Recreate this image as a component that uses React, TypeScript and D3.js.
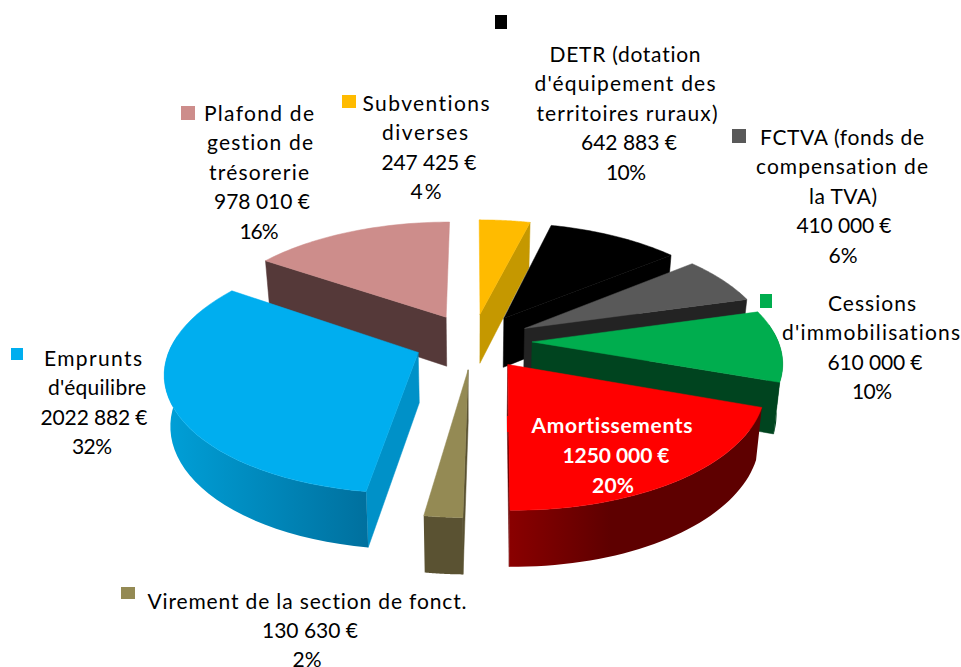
import * as d3 from 'd3';

const NAMES = ['Subventions diverses', 'DETR', 'FCTVA', 'Cessions', 'Amortissements', 'Virement', 'Emprunts', 'Plafond'];
const VALUES = [247425, 642883, 410000, 610000, 1250000, 130630, 2022882, 978010];
const TOP_COLORS = ['#FFBB00', '#000000', '#595959', '#00AD4E', '#FF0000', '#948A54', '#00AEEF', '#CD8D8B'];
const CUT_COLORS = ['#C59800', '#000000', '#232323', '#00441F', '#6A0000', '#5A5232', '#0091C8', '#553939'];
const WALL_FROM = ['#C59800', '#000000', '#232323', '#00441F', '#8A0000', '#5A5232', '#00A0D8', '#553939'];
const WALL_TO = ['#C59800', '#000000', '#232323', '#00441F', '#5E0000', '#5A5232', '#00709E', '#553939'];

// back to front
const DRAW_ORDER = [0, 7, 1, 2, 3, 6, 5, 4];

const LABEL_LINES = [
  ['Subventions', 'diverses', '247 425 €', '4%'],
  ['DETR (dotation', "d'équipement des", 'territoires ruraux)', '642 883 €', '10%'],
  ['FCTVA (fonds de', 'compensation de', 'la TVA)', '410 000 €', '6%'],
  ['Cessions', "d'immobilisations", '610 000 €', '10%'],
  ['Amortissements', '1250 000 €', '20%'],
  ['Virement de la section de fonct.', '130 630 €', '2%'],
  ['Emprunts', "d'équilibre", '2022 882 €', '32%'],
  ['Plafond de', 'gestion de', 'trésorerie', '978 010 €', '16%'],
];

// label layout per line: centre x and width as measured on the picture
const LINE_X = [
  [426, 425, 429, 426],
  [625, 625, 627, 629, 626],
  [842, 842, 843, 844, 843],
  [872, 871, 875, 872],
  [612, 616, 613],
  [307, 310, 307],
  [93, 97, 94, 92],
  [259, 260, 259, 262, 259],
];
const LINE_W = [
  [127, 86, 95, 31],
  [151, 181, 181, 96, 40],
  [164, 172, 68, 95, 29],
  [88, 178, 95, 40],
  [161, 107, 42],
  [319, 96, 29],
  [98, 98, 107, 40],
  [110, 106, 100, 96, 39],
];
// first line y, line step
const LABEL_Y = [[102, 29.5], [53, 29.5], [136, 29.5], [302, 29.5], [424, 30], [600, 29], [357, 29.5], [112, 29.5]];
// legend key layout: x, y, w, h
const KEY_POS = [
  [342, 95, 14, 13], [495, 15, 12, 14], [732, 129, 14, 14], [760, 294, 12, 14],
  [507, 416, 4, 16], [121, 587, 14, 12], [11, 348, 12, 12], [181, 106, 14, 14],
];

const CX = 473;
const CY = 341;
const RX = 246;
const RY = 116;
const PERSP = 0.15;
const DEPTH = 50;
const EXPLODE = 0.24;
const BOTTOM_SHRINK = 0.98;

type Pt = [number, number];

function project(v: number, u: number, down: boolean): Pt {
  const s = 1 / (1 + PERSP * u);
  const zs = 1 + (s - 1) * 0.6;
  const xs = down ? BOTTOM_SHRINK : 1;
  return [CX + RX * v * s * xs, CY - RY * u * s + (down ? DEPTH * zs : 0)];
}

export default function App() {
  const arcs = d3.pie<number>().sort(null)(VALUES);
  const line = d3.line();

  const shapes = arcs.map((a, i) => {
    const mid = (a.startAngle + a.endAngle) / 2;
    const ev = EXPLODE * Math.sin(mid);
    const eu = EXPLODE * Math.cos(mid);
    const angles = d3.range(0, 41).map(k => a.startAngle + ((a.endAngle - a.startAngle) * k) / 40);
    const rim = (down: boolean): Pt[] =>
      angles.map(t => project(Math.sin(t) + ev, Math.cos(t) + eu, down));
    const tipTop = project(ev, eu, false);
    const tipBot = project(ev, eu, true);
    const rimTop = rim(false);
    const rimBot = rim(true);
    const n = rimTop.length - 1;
    // only the part of the rim that faces the viewer gets a wall
    const front = angles.flatMap((t, k) => (Math.cos(t) < 0.15 ? [k] : []));
    const wallTop = front.map(k => rimTop[k]);
    const wallBot = front.map(k => rimBot[k]).reverse();
    return {
      i,
      top: line([tipTop, ...rimTop]) + 'Z',
      wall: front.length > 1 ? line([...wallTop, ...wallBot]) + 'Z' : null,
      // cut face seen from the front: start edge on the left half, end edge on the right half
      cut: a.startAngle >= Math.PI
        ? line([tipTop, rimTop[0], rimBot[0], tipBot]) + 'Z'
        : line([tipTop, rimTop[n], rimBot[n], tipBot]) + 'Z',
    };
  });

  return (
    <svg
      width={961}
      height={667}
      style={{ position: 'absolute', left: 0, top: 0, background: '#fff', fontVariantLigatures: 'none' }}
      fontFamily="Lato, 'Open Sans', sans-serif"
    >
      <defs>
        {NAMES.map((_, i) => (
          <linearGradient key={i} id={`wall-${i}`} x1="0" y1="0" x2="1" y2="0">
            <stop offset="0%" stopColor={WALL_FROM[i]} />
            <stop offset={i === 4 ? '40%' : '100%'} stopColor={WALL_TO[i]} />
          </linearGradient>
        ))}
      </defs>

      {/* Slices, back to front */}
      {DRAW_ORDER.map(idx => {
        const s = shapes[idx];
        return (
          <g key={NAMES[idx]}>
            <path d={s.cut} fill={CUT_COLORS[idx]} stroke={CUT_COLORS[idx]} strokeWidth={0.5} />
            {s.wall && <path d={s.wall} fill={`url(#wall-${idx})`} />}
            <path d={s.top} fill={TOP_COLORS[idx]} stroke={TOP_COLORS[idx]} strokeWidth={0.5} />
          </g>
        );
      })}

      {/* Legend keys */}
      {KEY_POS.map(([x, y, w, h], i) => (
        <rect key={i} x={x} y={y} width={w} height={h} fill={TOP_COLORS[i]} />
      ))}

      {/* Data labels */}
      {LABEL_LINES.map((lines, i) =>
        lines.map((t, j) => (
          <text
            key={`${i}-${j}`}
            x={LINE_X[i][j]}
            y={LABEL_Y[i][0] + j * LABEL_Y[i][1]}
            textAnchor="middle"
            dominantBaseline="central"
            textLength={LINE_W[i][j]}
            lengthAdjust="spacing"
            fontSize={21}
            fontWeight={i === 4 ? 700 : 400}
            fill={i === 4 ? '#fff' : '#000'}
          >
            {t}
          </text>
        ))
      )}
    </svg>
  );
}
